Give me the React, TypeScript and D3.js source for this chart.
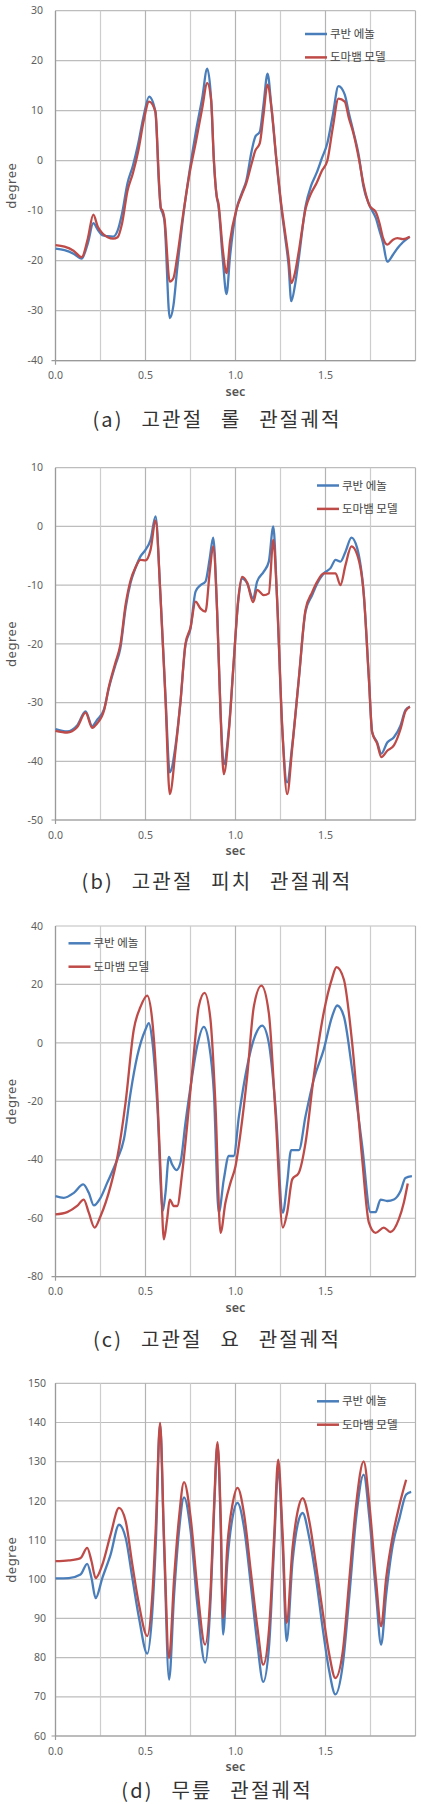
import * as d3 from 'd3'
import { FC } from 'react'

const WIDTH = 421
const HEIGHT = 1804
const PLOT_LEFT = 55.5
const PLOT_RIGHT = 415.5
const FONT = '"Noto Sans CJK KR", "Noto Sans", sans-serif'
const LATIN_FONT = '"Noto Sans", "DejaVu Sans", sans-serif'
const BLUE = '#4a7ebb'
const RED = '#be4b48'

const LEGEND_LABELS = ['쿠반 에놀', '도마뱀 모델']
const X_GRID = [0, 0.25, 0.5, 0.75, 1, 1.25, 1.5, 1.75, 2]
const X_LABELS = [0, 0.5, 1, 1.5]

// (a) roll
const TIME_A = [0, 0.05, 0.1, 0.145, 0.18, 0.21, 0.235, 0.26, 0.29, 0.32, 0.345, 0.37, 0.4, 0.43, 0.46, 0.49, 0.52, 0.555, 0.575, 0.585, 0.595, 0.605, 0.635, 0.655, 0.675, 0.71, 0.745, 0.78, 0.815, 0.843, 0.865, 0.88, 0.895, 0.905, 0.93, 0.95, 0.97, 1.005, 1.035, 1.06, 1.09, 1.11, 1.135, 1.155, 1.178, 1.2, 1.228, 1.255, 1.274, 1.295, 1.31, 1.33, 1.35, 1.39, 1.42, 1.45, 1.48, 1.51, 1.54, 1.572, 1.607, 1.63, 1.655, 1.685, 1.71, 1.745, 1.78, 1.8, 1.82, 1.843, 1.875, 1.9, 1.93, 1.968]
const CUBAN_A = [-17.6, -17.9, -18.6, -19.6, -16.5, -12.5, -13.8, -14.9, -15.1, -15.2, -14.0, -10.5, -4.5, -1.0, 3.5, 9.0, 12.8, 9.8, -5.0, -9.5, -10.5, -12.0, -31.5, -29.0, -22.0, -11.0, -2.0, 5.8, 12.5, 18.4, 12.0, 0.0, -7.0, -9.0, -20.0, -26.7, -19.0, -9.8, -6.5, -4.0, 2.0, 4.8, 5.8, 11.0, 17.4, 10.5, -0.3, -9.5, -14.8, -21.0, -28.1, -25.0, -20.0, -9.0, -5.0, -2.5, 0.5, 3.5, 9.0, 14.9, 13.2, 9.5, 5.8, 1.0, -5.0, -9.0, -11.5, -14.0, -16.5, -20.2, -18.8, -17.5, -16.3, -15.2]
const MODEL_A = [-16.9, -17.2, -18.0, -19.3, -15.5, -10.8, -13.2, -14.5, -15.3, -15.6, -15.3, -12.5, -6.0, -2.5, 2.0, 8.0, 11.8, 9.8, -4.0, -9.5, -10.0, -11.5, -24.2, -23.5, -19.5, -10.5, -2.5, 3.8, 10.5, 15.5, 12.0, 0.0, -7.0, -8.5, -18.0, -22.5, -16.0, -9.8, -6.8, -4.5, -0.5, 2.0, 3.5, 9.0, 15.2, 10.5, 0.0, -9.0, -14.0, -19.5, -24.5, -22.5, -18.5, -9.5, -6.5, -4.5, -2.0, 0.0, 6.5, 12.4, 11.8, 8.5, 5.5, 0.5, -4.5, -9.0, -10.3, -12.5, -15.5, -16.8, -15.8, -15.5, -15.7, -15.2]
const Y_TICKS_A = [-40, -30, -20, -10, 0, 10, 20, 30]

// (b) pitch
const TIME_B = [0, 0.065, 0.12, 0.167, 0.204, 0.23, 0.27, 0.296, 0.333, 0.36, 0.39, 0.417, 0.444, 0.472, 0.5, 0.528, 0.556, 0.583, 0.611, 0.635, 0.667, 0.694, 0.722, 0.75, 0.778, 0.806, 0.833, 0.857, 0.876, 0.898, 0.917, 0.935, 0.963, 0.99, 1.015, 1.037, 1.065, 1.098, 1.12, 1.157, 1.185, 1.21, 1.23, 1.26, 1.287, 1.315, 1.352, 1.389, 1.426, 1.454, 1.49, 1.528, 1.556, 1.583, 1.611, 1.644, 1.676, 1.713, 1.741, 1.759, 1.787, 1.81, 1.843, 1.88, 1.917, 1.944, 1.969]
const CUBAN_B = [-34.5, -34.9, -33.9, -31.5, -34.0, -33.0, -31.1, -27.6, -23.6, -20.8, -13.8, -9.6, -7.1, -5.1, -4.0, -2.3, 1.7, -11.7, -28.8, -41.9, -37.3, -29.9, -20.2, -17.4, -11.1, -10.0, -9.4, -5.4, -1.9, -14.5, -31.6, -40.5, -34.5, -23.1, -12.8, -8.9, -9.7, -12.3, -9.4, -7.7, -6.0, 0.0, -11.7, -34.5, -43.6, -37.3, -25.9, -14.5, -11.7, -9.7, -8.0, -7.1, -5.7, -6.0, -4.3, -1.9, -3.7, -11.7, -25.9, -35.0, -36.8, -38.7, -36.8, -35.9, -33.9, -31.3, -30.7]
const MODEL_B = [-34.8, -35.1, -34.2, -31.7, -34.3, -33.6, -31.3, -27.4, -23.2, -20.2, -13.2, -9.2, -7.0, -5.7, -5.8, -4.0, 1.0, -11.7, -29.5, -45.6, -38.0, -30.0, -20.0, -17.2, -12.8, -14.0, -14.5, -7.7, -3.4, -14.5, -32.0, -42.2, -35.0, -23.1, -12.5, -8.6, -9.6, -12.9, -10.8, -11.7, -11.4, -2.3, -11.7, -34.5, -45.6, -37.8, -25.9, -14.2, -11.2, -9.4, -8.0, -8.0, -8.0, -10.0, -6.6, -3.4, -4.8, -11.7, -25.9, -35.0, -37.0, -39.3, -38.2, -37.3, -34.5, -31.5, -30.7]
const Y_TICKS_B = [-50, -40, -30, -20, -10, 0, 10]

// (c) yaw
const TIME_CUBAN_C = [0, 0.046, 0.102, 0.154, 0.185, 0.213, 0.25, 0.287, 0.343, 0.38, 0.417, 0.454, 0.5, 0.519, 0.537, 0.565, 0.596, 0.611, 0.63, 0.648, 0.672, 0.694, 0.722, 0.759, 0.787, 0.824, 0.852, 0.88, 0.907, 0.935, 0.963, 0.99, 1.019, 1.065, 1.111, 1.148, 1.185, 1.222, 1.263, 1.287, 1.309, 1.352, 1.389, 1.435, 1.49, 1.537, 1.565, 1.602, 1.648, 1.704, 1.75, 1.778, 1.806, 1.843, 1.88, 1.917, 1.944, 1.98]
const CUBAN_C = [-52.4, -53.0, -51.3, -48.4, -51.3, -55.6, -53.0, -47.9, -39.9, -33.0, -17.1, -4.6, 4.6, 6.8, 1.1, -20.5, -57.5, -51.3, -39.0, -41.6, -43.5, -41.0, -27.4, -11.4, -1.1, 5.5, 0.0, -17.1, -58.1, -46.7, -38.7, -38.7, -25.1, -8.0, 2.8, 5.9, 0.0, -21.7, -58.1, -47.9, -36.7, -36.7, -25.1, -12.5, -2.3, 9.1, 12.8, 9.1, -9.1, -35.3, -57.9, -57.9, -53.6, -54.1, -53.6, -50.7, -46.2, -45.6]
const TIME_MODEL_C = [0, 0.065, 0.12, 0.157, 0.185, 0.217, 0.25, 0.306, 0.343, 0.389, 0.435, 0.472, 0.509, 0.537, 0.565, 0.587, 0.602, 0.62, 0.635, 0.657, 0.676, 0.704, 0.731, 0.769, 0.796, 0.828, 0.861, 0.889, 0.917, 0.944, 0.972, 1.0, 1.028, 1.065, 1.102, 1.144, 1.185, 1.222, 1.263, 1.287, 1.315, 1.352, 1.389, 1.435, 1.49, 1.537, 1.561, 1.602, 1.648, 1.704, 1.741, 1.778, 1.824, 1.861, 1.907, 1.935, 1.957]
const MODEL_C = [-58.7, -57.9, -55.8, -53.6, -58.1, -63.2, -59.3, -49.0, -39.3, -20.5, 4.6, 12.3, 16.2, 8.0, -17.1, -49.0, -67.2, -60.4, -53.6, -55.8, -55.8, -44.4, -28.5, -3.4, 12.5, 17.1, 8.0, -21.7, -65.0, -54.7, -47.9, -42.2, -30.8, -11.4, 12.5, 19.6, 10.3, -23.9, -63.2, -58.1, -46.7, -44.4, -34.2, -11.4, 10.3, 22.2, 25.9, 21.7, 0.0, -39.9, -61.5, -65.0, -63.2, -64.7, -60.4, -54.7, -48.1]
const Y_TICKS_C = [-80, -60, -40, -20, 0, 20, 40]

// (d) knee
const TIME_D = [0, 0.074, 0.139, 0.176, 0.2, 0.223, 0.26, 0.306, 0.353, 0.39, 0.427, 0.464, 0.51, 0.538, 0.557, 0.581, 0.603, 0.631, 0.659, 0.686, 0.714, 0.751, 0.788, 0.831, 0.863, 0.881, 0.9, 0.918, 0.931, 0.955, 0.983, 1.011, 1.048, 1.085, 1.122, 1.154, 1.187, 1.215, 1.237, 1.262, 1.284, 1.317, 1.345, 1.373, 1.41, 1.447, 1.484, 1.521, 1.555, 1.596, 1.633, 1.67, 1.712, 1.744, 1.781, 1.809, 1.837, 1.874, 1.911, 1.948, 1.976]
const CUBAN_D = [100.2, 100.3, 101.2, 103.9, 100.3, 95.2, 100.3, 106.3, 113.9, 110.5, 100.3, 90.1, 81.0, 91.8, 108.8, 139.5, 108.8, 74.4, 96.1, 112.2, 120.9, 112.2, 93.5, 78.7, 96.1, 117.3, 134.4, 113.0, 85.9, 104.6, 115.6, 119.5, 113.0, 98.6, 83.3, 73.8, 83.3, 108.8, 127.6, 108.8, 84.2, 104.6, 113.9, 116.9, 110.5, 100.3, 87.6, 76.5, 70.6, 78.2, 96.1, 115.6, 126.7, 115.6, 96.1, 83.3, 96.1, 108.8, 115.6, 121.6, 122.3]
const MODEL_D = [104.6, 104.8, 105.4, 108.0, 104.6, 100.3, 103.7, 111.4, 118.2, 114.8, 103.7, 93.5, 85.5, 96.1, 113.0, 139.9, 110.5, 79.9, 100.3, 115.6, 124.8, 115.6, 97.8, 83.3, 98.6, 119.0, 135.0, 115.6, 90.1, 108.8, 119.0, 123.3, 116.5, 102.0, 87.6, 78.2, 87.6, 111.2, 130.5, 111.2, 88.9, 108.0, 117.3, 120.7, 114.8, 103.7, 91.8, 80.8, 74.8, 81.6, 100.3, 119.0, 130.1, 119.0, 99.5, 88.0, 100.3, 111.2, 119.0, 125.4]
const Y_TICKS_D = [60, 70, 80, 90, 100, 110, 120, 130, 140, 150]

type Series = { time: number[]; values: number[] }

type PanelProps = {
  caption: string
  top: number
  bottom: number
  yTicks: number[]
  cuban: Series
  model: Series
  legendX: number
  legendY: number
  captionY: number
  tickRight: number
}

const PANELS: PanelProps[] = [
  {
    caption: '(a) 고관절 롤 관절궤적',
    top: 10.7, bottom: 360.7, yTicks: Y_TICKS_A,
    cuban: { time: TIME_A, values: CUBAN_A },
    model: { time: TIME_A, values: MODEL_A },
    legendX: 305, legendY: 34, captionY: 427, tickRight: 43,
  },
  {
    caption: '(b) 고관절 피치 관절궤적',
    top: 467.7, bottom: 820, yTicks: Y_TICKS_B,
    cuban: { time: TIME_B, values: CUBAN_B },
    model: { time: TIME_B, values: MODEL_B },
    legendX: 317, legendY: 485.5, captionY: 889, tickRight: 43,
  },
  {
    caption: '(c) 고관절 요 관절궤적',
    top: 926, bottom: 1276.7, yTicks: Y_TICKS_C,
    cuban: { time: TIME_CUBAN_C, values: CUBAN_C },
    model: { time: TIME_MODEL_C, values: MODEL_C },
    legendX: 68.5, legendY: 943.3, captionY: 1347, tickRight: 43,
  },
  {
    caption: '(d) 무릎 관절궤적',
    top: 1383.3, bottom: 1736, yTicks: Y_TICKS_D,
    cuban: { time: TIME_D, values: CUBAN_D },
    model: { time: TIME_D.slice(0, MODEL_D.length), values: MODEL_D },
    legendX: 317, legendY: 1401.3, captionY: 1798, tickRight: 46,
  },
]



const Panel: FC<PanelProps> = ({
  caption, top, bottom, yTicks, cuban, model, legendX, legendY, captionY, tickRight,
}) => {
  const xScale = d3.scaleLinear().domain([0, 2]).range([PLOT_LEFT, PLOT_RIGHT])
  const yScale = d3
    .scaleLinear()
    .domain([yTicks[0], yTicks[yTicks.length - 1]])
    .range([bottom, top])

  const line = d3
    .line<number>()
    .curve(d3.curveMonotoneX)

  const pathFor = (s: Series) =>
    line.x((_, i) => xScale(s.time[i])).y((d) => yScale(d))(s.values) as string

  const midY = (top + bottom) / 2
  const fmt = d3.format('.1f')

  return (
    <g>
      {/* grid */}
      {yTicks.map((t) => (
        <line key={'h' + t} x1={PLOT_LEFT} x2={PLOT_RIGHT} y1={yScale(t)} y2={yScale(t)}
          stroke='#bdbdbd' strokeWidth={1.2} />
      ))}
      {X_GRID.map((t) => (
        <line key={'v' + t} x1={xScale(t)} x2={xScale(t)} y1={top} y2={bottom}
          stroke={t % 0.5 === 0 ? '#b3b3b3' : '#cdcdcd'} strokeWidth={1.2} />
      ))}
      <line x1={PLOT_LEFT} x2={PLOT_LEFT} y1={top} y2={bottom + 4} stroke='#9a9a9a' strokeWidth={1.2} />
      <line x1={PLOT_LEFT - 4} x2={PLOT_RIGHT} y1={bottom} y2={bottom} stroke='#9a9a9a' strokeWidth={1.2} />

      {/* y tick labels */}
      {yTicks.map((t) => (
        <text key={'yl' + t} x={tickRight} y={yScale(t)} dy='0.35em' textAnchor='end'
          fontFamily={LATIN_FONT} fontSize={10.5} fill='#5e5e5e'>
          {t}
        </text>
      ))}
      {/* x tick labels */}
      {X_LABELS.map((t) => (
        <text key={'xl' + t} x={xScale(t)} y={bottom + 18.5} textAnchor='middle'
          fontFamily={LATIN_FONT} fontSize={10.5} fill='#5e5e5e'>
          {fmt(t)}
        </text>
      ))}
      <text x={(PLOT_LEFT + PLOT_RIGHT) / 2} y={bottom + 35} textAnchor='middle'
        fontFamily={LATIN_FONT} fontSize={12.5} fontWeight={600} fill='#555'>
        sec
      </text>
      <text transform={`translate(16,${midY}) rotate(-90)`} textAnchor='middle'
        fontFamily={LATIN_FONT} fontSize={13} fill='#555' letterSpacing={0.5}>
        degree
      </text>

      {/* series */}
      <path d={pathFor(cuban)} fill='none' stroke={BLUE} strokeWidth={2.3} strokeLinejoin='round' />
      <path d={pathFor(model)} fill='none' stroke={RED} strokeWidth={2.3} strokeLinejoin='round' />

      {/* legend */}
      {[BLUE, RED].map((c, i) => (
        <g key={c} transform={`translate(${legendX},${legendY + i * 23.4})`}>
          <line x1={0} x2={22} y1={0} y2={0} stroke={c} strokeWidth={2.5} />
          <text x={25} y={0} dy='0.35em' fontSize={11.5} fill='#444'>
            {LEGEND_LABELS[i]}
          </text>
        </g>
      ))}

      {/* caption */}
      <text x={217} y={captionY} textAnchor='middle' fontSize={20} fill='#333'
        letterSpacing={2.2} wordSpacing={11}>
        {caption}
      </text>
    </g>
  )
}



const App: FC = () => (
  <svg
    width={WIDTH}
    height={HEIGHT}
    style={{ position: 'absolute', left: 0, top: 0, background: '#fff' }}
    fontFamily={FONT}
  >
    <rect width={WIDTH} height={HEIGHT} fill='#fff' />
    {PANELS.map((p) => (
      <Panel key={p.caption} {...p} />
    ))}
  </svg>
)

export default App
